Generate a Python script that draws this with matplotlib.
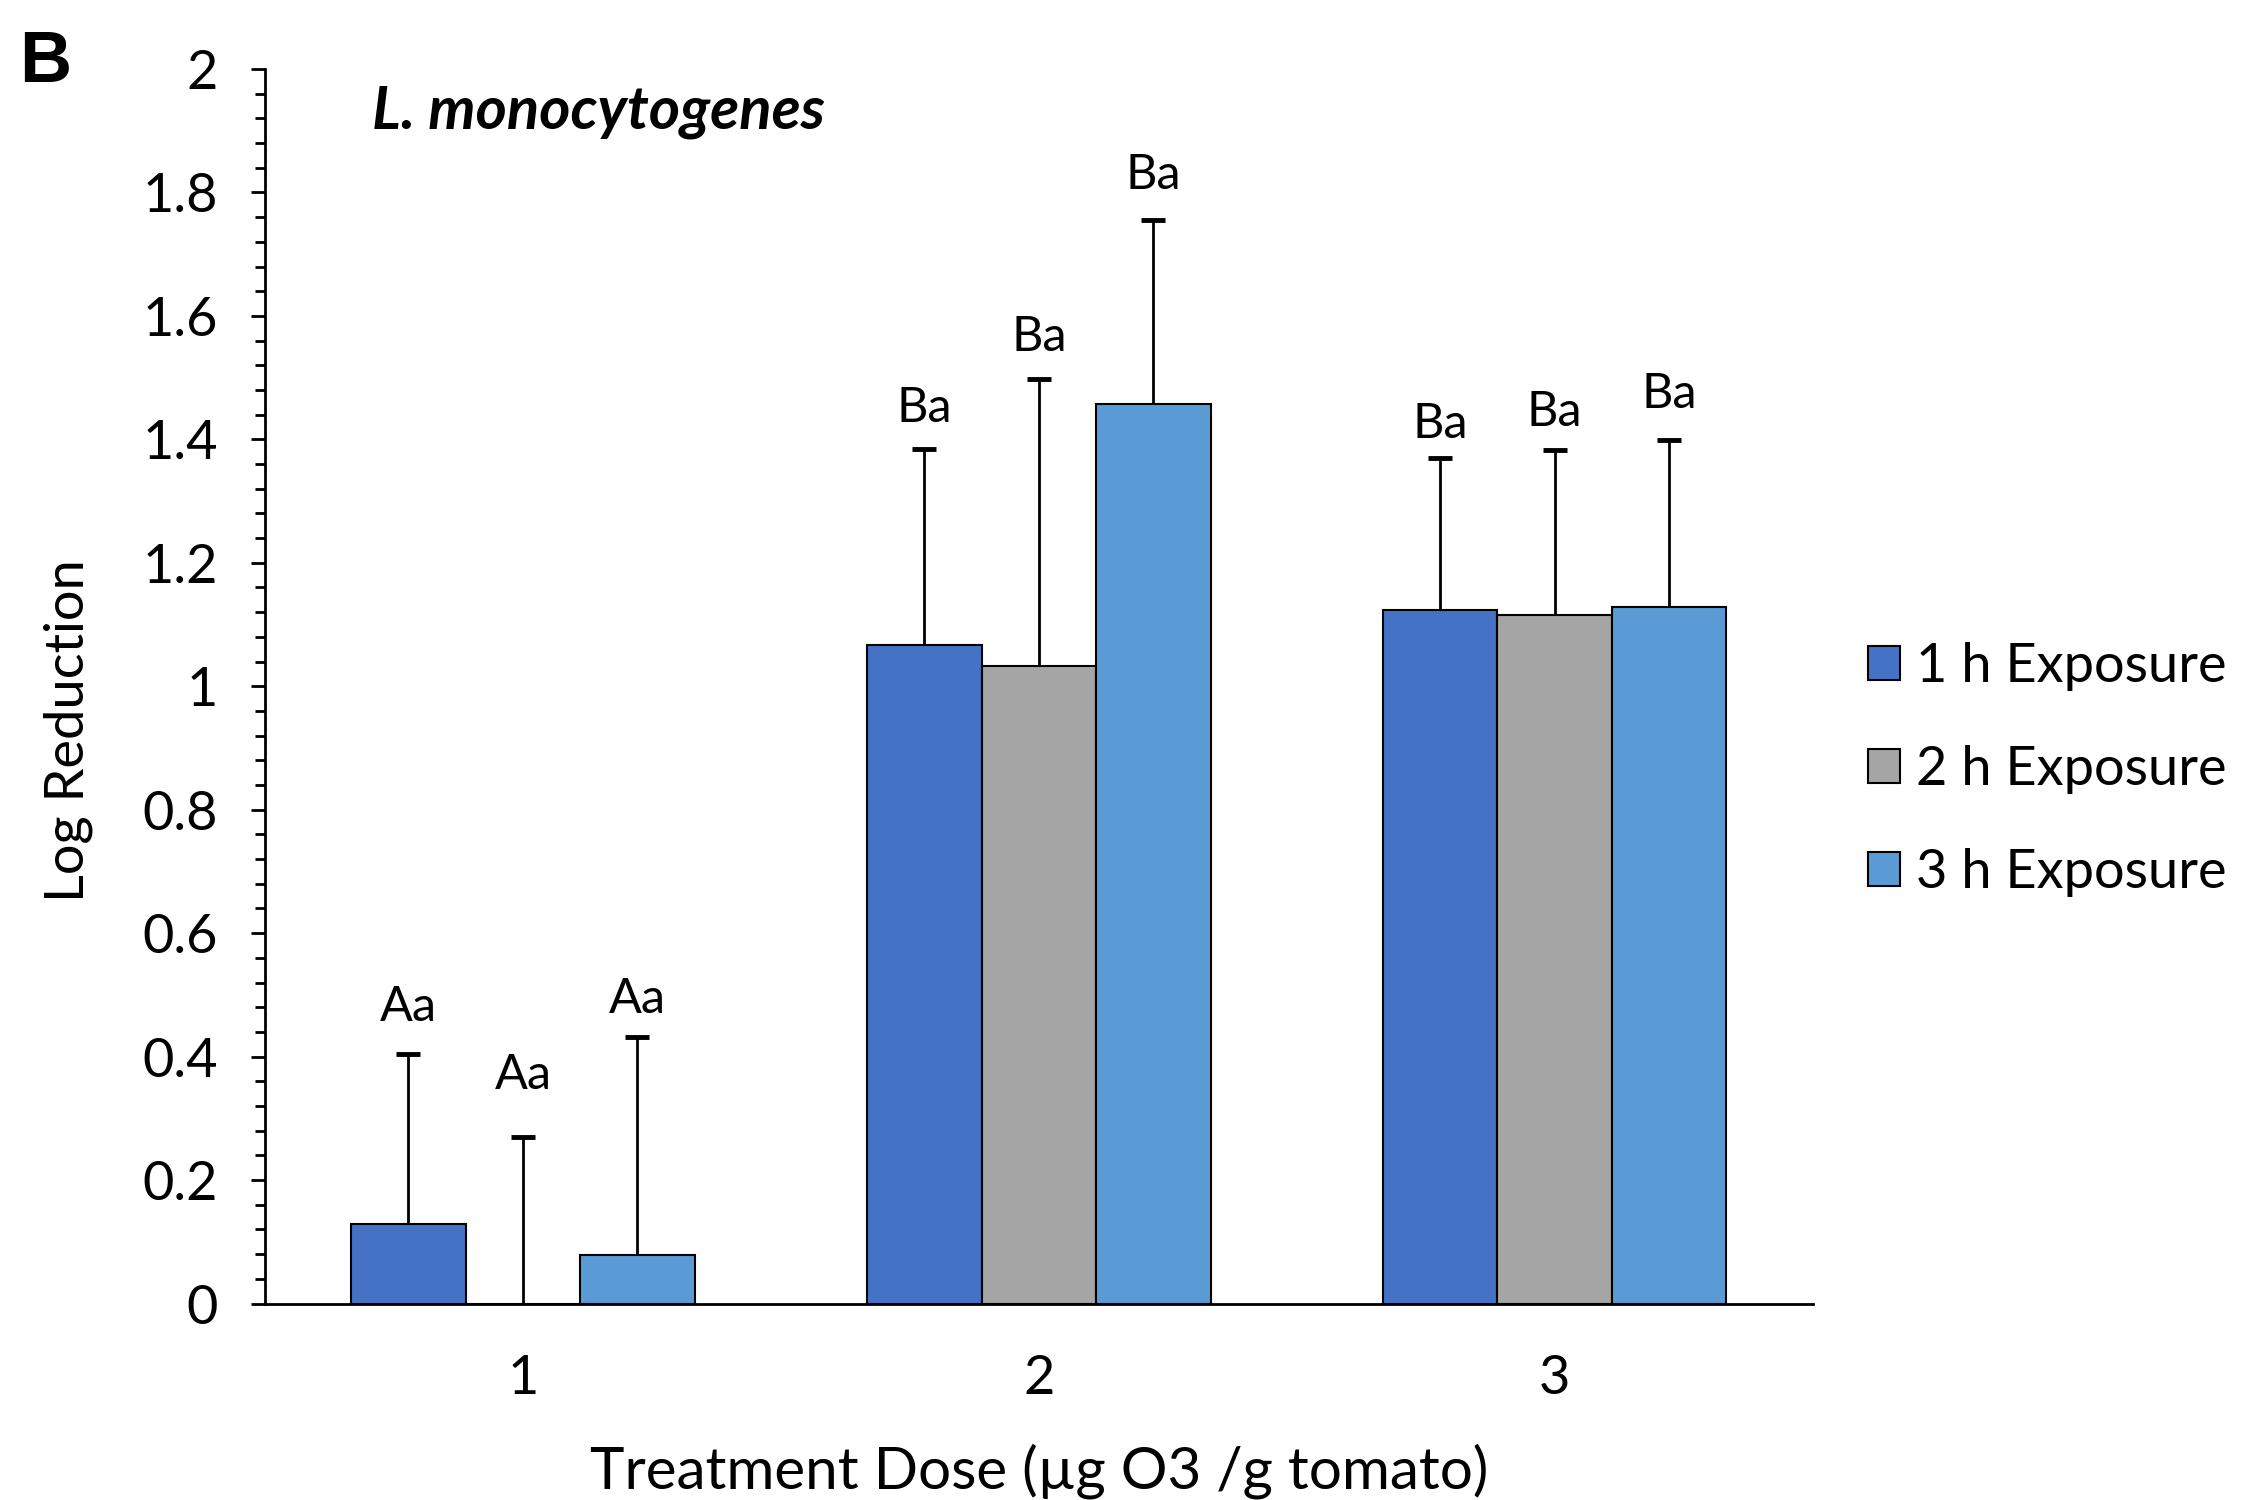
import numpy as np
import matplotlib
matplotlib.use('Agg')
import matplotlib.pyplot as plt
from matplotlib.ticker import MultipleLocator, FuncFormatter

plt.rcParams['font.family'] = ['Lato', 'DejaVu Sans']

# Datos
doses = ['1', '2', '3']
series = ['1 h Exposure', '2 h Exposure', '3 h Exposure']
colors = ['#4472C4', '#A5A5A5', '#5B9BD5']

mean_1h = [0.128, 1.067, 1.123]
mean_2h = [0.0, 1.032, 1.116]
mean_3h = [0.079, 1.457, 1.128]

sd_1h = [0.276, 0.318, 0.246]
sd_2h = [0.269, 0.465, 0.267]
sd_3h = [0.353, 0.299, 0.271]

letters_1h = ['Aa', 'Ba', 'Ba']
letters_2h = ['Aa', 'Ba', 'Ba']
letters_3h = ['Aa', 'Ba', 'Ba']

label_y_1h = [0.480, 1.450, 1.425]
label_y_2h = [0.371, 1.566, 1.445]
label_y_3h = [0.494, 1.828, 1.473]

means = [mean_1h, mean_2h, mean_3h]
sds = [sd_1h, sd_2h, sd_3h]
letters = [letters_1h, letters_2h, letters_3h]
label_ys = [label_y_1h, label_y_2h, label_y_3h]

fig = plt.figure(figsize=(22.46, 15), dpi=100)
ax = fig.add_axes([0.118, 0.131, 0.689, 0.823])

x = np.arange(1, len(doses) + 1)
w = 0.222

for i in range(3):
    pos = x + (i - 1) * w
    m = np.array(means[i])
    e = np.array(sds[i])
    ax.bar(pos, m, width=w, color=colors[i], edgecolor='black',
           linewidth=1.5, label=series[i], zorder=2)
    # solo la barra de error superior, sin tope abajo
    ax.vlines(pos, m, m + e, color='black', linewidth=2, zorder=1)
    ax.plot(pos, m + e, linestyle='none', marker='_', markersize=17,
            markeredgewidth=3.5, color='black', zorder=3)
    for xp, t, yl in zip(pos, letters[i], label_ys[i]):
        ax.text(xp, yl, t, ha='center', va='center', fontsize=35)

ax.set_xlim(0.5, 3.5)
ax.set_ylim(0, 2)
ax.set_xticks(x)
ax.set_xticklabels(doses)
ax.yaxis.set_major_locator(MultipleLocator(0.2))
ax.yaxis.set_minor_locator(MultipleLocator(0.04))
ax.yaxis.set_major_formatter(FuncFormatter(lambda v, p: f'{v:g}'))

ax.tick_params(axis='y', which='major', labelsize=39, length=10, width=2, pad=24)
ax.tick_params(axis='y', which='minor', length=7, width=2)
ax.tick_params(axis='x', labelsize=39, length=0, pad=36)

for s in ['top', 'right']:
    ax.spines[s].set_visible(False)
for s in ['left', 'bottom']:
    ax.spines[s].set_linewidth(2)

ax.set_ylabel('Log Reduction', fontsize=39, va='center')
ax.yaxis.set_label_coords(-0.127, 0.464)
ax.set_xlabel('Treatment Dose (µg O3 /g tomato)', fontsize=42, va='center')
ax.xaxis.set_label_coords(0.5, -0.1357)

ax.text(0.069, 0.965, 'L. monocytogenes', transform=ax.transAxes,
        fontsize=43, fontweight='bold', fontstyle='italic', ha='left', va='center')

fig.text(0.0085, 0.958, 'B', fontsize=52, fontweight='bold',
         family='Liberation Sans', ha='left', va='center')

fig.legend(loc='center left', bbox_to_anchor=(0.8195, 0.487), frameon=False,
           fontsize=39, handlelength=0.6, handleheight=0.6,
           handletextpad=0.3, labelspacing=1.0, borderpad=0)

fig.savefig('out.png', dpi=100)
